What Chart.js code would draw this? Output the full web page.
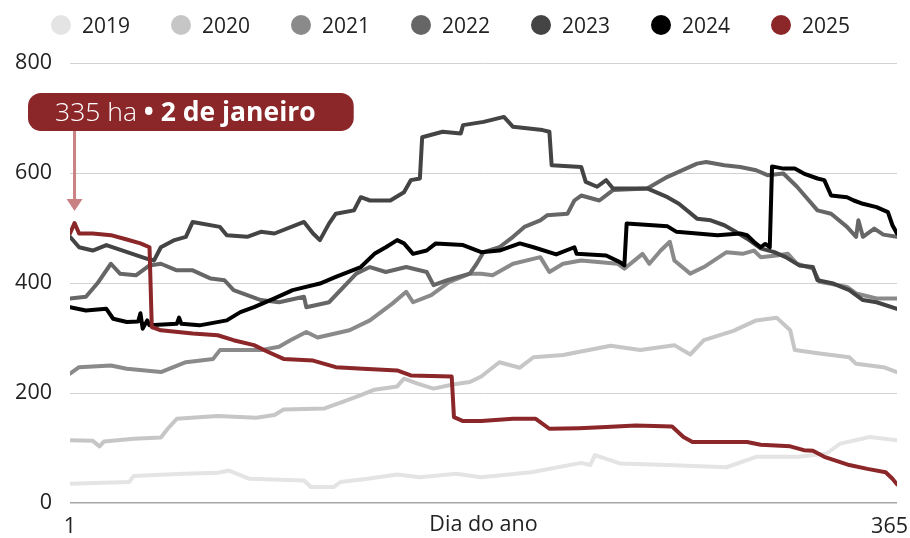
<!DOCTYPE html>
<html>
<head>
<meta charset="utf-8">
<script src="https://cdn.jsdelivr.net/npm/chart.js@4.4.1/dist/chart.umd.min.js"></script>
<style>
html,body{margin:0;padding:0;background:#fff;}
#wrap{width:910px;height:538px;position:relative;}
</style>
</head>
<body>
<div id="wrap"><canvas id="c"></canvas></div>
<script>
// ---- data ----
const years = ['2019', '2020', '2021', '2022', '2023', '2024', '2025'];
const colors = ['#e4e4e4', '#c6c6c6', '#8a8a8a', '#666666', '#444444', '#000000', '#8b2629'];

const days2019 = [1, 27, 29, 51, 66, 71, 80, 104, 107, 117, 120, 132, 145, 155, 171, 182, 204, 226, 230, 232, 243, 264, 290, 303, 322, 334, 340, 353, 365];
const vals2019 = [35, 38, 49, 53, 55, 59, 44, 41, 29, 29, 38, 44, 52, 47, 53, 47, 56, 73, 69, 87, 72, 69, 65, 84, 84, 90, 108, 120, 114];

const days2020 = [1, 11, 14, 16, 29, 41, 44, 48, 66, 83, 91, 95, 113, 121, 129, 135, 145, 148, 154, 161, 170, 177, 182, 190, 199, 205, 218, 239, 252, 267, 274, 280, 293, 303, 312, 318, 320, 331, 344, 347, 359, 365];
const vals2020 = [114, 113, 103, 112, 117, 119, 135, 153, 158, 155, 160, 170, 172, 184, 196, 206, 212, 226, 217, 208, 216, 220, 230, 256, 246, 265, 269, 286, 278, 287, 270, 296, 313, 332, 337, 314, 278, 272, 265, 253, 247, 238];

const days2021 = [1, 5, 19, 26, 41, 52, 64, 67, 85, 93, 98, 105, 110, 124, 133, 143, 149, 152, 160, 168, 177, 182, 187, 196, 208, 212, 218, 226, 242, 245, 253, 256, 261, 265, 267, 274, 280, 290, 297, 302, 305, 312, 317, 321, 328, 331, 343, 347, 356, 365];
const vals2021 = [235, 247, 250, 244, 238, 256, 262, 278, 278, 284, 296, 311, 301, 314, 332, 363, 384, 365, 378, 402, 417, 417, 414, 435, 447, 420, 435, 441, 435, 426, 453, 435, 459, 475, 441, 417, 429, 456, 453, 459, 447, 450, 453, 435, 426, 402, 393, 381, 372, 372];

const days2022 = [1, 8, 13, 19, 23, 30, 36, 41, 48, 55, 63, 69, 73, 85, 93, 104, 105, 115, 127, 133, 140, 149, 158, 161, 167, 177, 180, 183, 190, 196, 201, 208, 211, 220, 223, 226, 234, 240, 255, 264, 277, 281, 289, 296, 303, 308, 315, 321, 325, 330, 336, 343, 347, 348, 350, 355, 359, 365];
const vals2022 = [372, 375, 399, 435, 417, 414, 432, 435, 423, 423, 408, 405, 387, 369, 365, 375, 356, 365, 417, 429, 420, 429, 420, 396, 405, 417, 435, 456, 465, 484, 502, 514, 523, 526, 550, 559, 550, 569, 572, 593, 617, 620, 614, 611, 605, 596, 599, 575, 556, 532, 526, 502, 484, 514, 484, 499, 488, 484];

const days2023 = [1, 5, 11, 17, 35, 38, 41, 47, 52, 55, 67, 70, 79, 85, 91, 104, 108, 111, 115, 118, 126, 129, 133, 142, 148, 151, 155, 156, 165, 173, 174, 183, 192, 196, 209, 212, 213, 226, 228, 233, 237, 240, 255, 264, 269, 277, 283, 289, 294, 300, 305, 311, 316, 322, 328, 330, 337, 344, 350, 356, 365];
const vals2023 = [484, 465, 459, 469, 444, 441, 465, 478, 484, 511, 502, 487, 484, 493, 490, 511, 490, 478, 508, 526, 532, 556, 550, 550, 565, 587, 590, 665, 675, 672, 687, 693, 702, 684, 678, 675, 614, 611, 584, 575, 587, 572, 572, 556, 544, 517, 514, 505, 493, 478, 463, 456, 447, 432, 429, 405, 399, 387, 369, 365, 353];

const days2024 = [1, 8, 17, 20, 26, 31, 32, 33, 35, 36, 48, 49, 50, 58, 70, 76, 82, 91, 99, 111, 118, 129, 135, 140, 145, 148, 152, 158, 162, 174, 182, 190, 199, 205, 215, 223, 224, 237, 243, 245, 246, 264, 268, 277, 286, 296, 299, 302, 305, 307, 309, 310, 315, 320, 324, 330, 333, 336, 343, 346, 350, 356, 361, 363, 365];
const vals2024 = [356, 350, 353, 335, 329, 330, 345, 317, 332, 323, 326, 337, 326, 323, 332, 347, 356, 372, 387, 399, 411, 429, 453, 465, 478, 472, 453, 459, 472, 469, 456, 459, 472, 465, 452, 465, 453, 450, 438, 432, 508, 503, 493, 490, 487, 490, 487, 475, 465, 471, 465, 612, 608, 608, 599, 590, 587, 559, 556, 550, 544, 538, 529, 505, 490];

const days2025 = [1, 3, 5, 11, 19, 26, 32, 36, 37, 41, 55, 66, 73, 82, 88, 95, 108, 118, 130, 145, 151, 169, 170, 174, 182, 196, 206, 212, 225, 237, 250, 266, 271, 275, 299, 305, 318, 324, 328, 333, 344, 352, 360, 363, 365];
const vals2025 = [490, 509, 490, 490, 487, 479, 472, 465, 320, 314, 308, 305, 296, 287, 275, 262, 259, 247, 244, 241, 232, 230, 156, 149, 149, 153, 153, 135, 136, 138, 141, 139, 120, 111, 111, 106, 103, 96, 95, 84, 69, 62, 56, 44, 34];

const yTickValues = [0, 200, 400, 600, 800];
const xTickValues = [1, 365];
const xTitle = 'Dia do ano';
const noteValue = '335 ha';
const noteDate = '2 de janeiro';
const noteDay = 3;
const noteSeries = 6;

// ---- build datasets ----
const dayLists = [days2019, days2020, days2021, days2022, days2023, days2024, days2025];
const valLists = [vals2019, vals2020, vals2021, vals2022, vals2023, vals2024, vals2025];

const datasets = years.map((y, i) => ({
  label: y,
  data: dayLists[i].map((d, k) => ({x: d, y: valLists[i][k]})),
  borderColor: colors[i],
  backgroundColor: colors[i],
  borderWidth: 4,
  pointRadius: 0,
  pointHoverRadius: 0,
  tension: 0,
  borderCapStyle: 'round',
  borderJoinStyle: 'round',
  fill: false,
  order: years.length - 1 - i
}));

const FONT = '"Open Sans", "DejaVu Sans", sans-serif';

// custom legend, evenly spaced like the reference
const legendPlugin = {
  id: 'spacedLegend',
  afterDraw(chart) {
    const ctx = chart.ctx;
    const step = 120, r = 10, cy = 25;
    ctx.save();
    ctx.font = '21px ' + FONT;
    const lastW = 2 * r + 12 + ctx.measureText(years[years.length - 1]).width;
    const total = step * (years.length - 1) + lastW;
    const startX = (chart.width - total) / 2 - 4;
    years.forEach((y, i) => {
      const cx = startX + r + i * step;
      ctx.beginPath();
      ctx.arc(cx, cy, r, 0, Math.PI * 2);
      ctx.fillStyle = colors[i];
      ctx.fill();
      ctx.fillStyle = '#222';
      ctx.textAlign = 'left';
      ctx.textBaseline = 'middle';
      ctx.fillText(y, cx + r + 11, cy + 2);
    });
    ctx.restore();
  }
};

// annotation box + arrow pointing to the 2025 series
const notePlugin = {
  id: 'note',
  afterDatasetsDraw(chart) {
    const ctx = chart.ctx;
    const xs = chart.scales.x, ys = chart.scales.y;
    const idx = dayLists[noteSeries].indexOf(noteDay);
    const px = xs.getPixelForValue(noteDay);
    const py = ys.getPixelForValue(valLists[noteSeries][idx]);
    ctx.save();
    const boxL = chart.chartArea.left - 42, boxT = chart.chartArea.top + 30, boxH = 38;
    const fs = 26.5;
    ctx.font = '300 ' + fs + 'px ' + FONT;
    const t1 = noteValue + ' ';
    const w1 = ctx.measureText(t1).width;
    ctx.font = 'bold ' + fs + 'px ' + FONT;
    const t2 = '\u2022 ' + noteDate;
    const w2 = ctx.measureText(t2).width;
    const boxW = w1 + w2 + 27 + 38;
    // arrow
    const tipY = py - 12;
    ctx.strokeStyle = '#c98184';
    ctx.fillStyle = '#c98184';
    ctx.lineWidth = 3;
    ctx.beginPath();
    ctx.moveTo(px, boxT + boxH);
    ctx.lineTo(px, tipY - 10);
    ctx.stroke();
    ctx.beginPath();
    ctx.moveTo(px - 8, tipY - 12);
    ctx.lineTo(px + 8, tipY - 12);
    ctx.lineTo(px, tipY);
    ctx.closePath();
    ctx.fill();
    // box
    ctx.fillStyle = '#8b2629';
    ctx.beginPath();
    ctx.roundRect(boxL, boxT, boxW, boxH, 13);
    ctx.fill();
    ctx.fillStyle = '#ffffff';
    ctx.textBaseline = 'middle';
    ctx.textAlign = 'left';
    ctx.font = '300 ' + fs + 'px ' + FONT;
    ctx.fillText(t1, boxL + 27, boxT + boxH / 2 + 1);
    ctx.font = 'bold ' + fs + 'px ' + FONT;
    ctx.fillText(t2, boxL + 27 + w1, boxT + boxH / 2 + 1);
    ctx.restore();
  }
};

// keep the last x label inside the canvas
const edgeLabelPlugin = {
  id: 'edgeLabel',
  beforeDraw(chart) {
    const sc = chart.scales.x;
    const items = sc.getLabelItems();
    if (!items.length) return;
    const last = items[items.length - 1];
    const ctx = chart.ctx;
    ctx.save();
    ctx.font = last.font.string;
    const w = ctx.measureText(String(last.label)).width;
    ctx.restore();
    const tr = last.options.translation;
    if (tr[0] + w / 2 > chart.width - 2) tr[0] = chart.width - 2 - w / 2;
  }
};

const AXFONT = { family: FONT, size: 21.5 };

new Chart(document.getElementById('c'), {
  type: 'line',
  data: { datasets },
  options: {
    responsive: true,
    maintainAspectRatio: false,
    animation: false,
    devicePixelRatio: 1,
    layout: { padding: { top: 63, right: 13, bottom: 0, left: 0 } },
    plugins: {
      legend: { display: false },
      tooltip: { enabled: false }
    },
    scales: {
      x: {
        type: 'linear',
        min: 1,
        max: 365,
        grid: { display: false, drawTicks: false },
        border: { display: false },
        afterBuildTicks(scale) { scale.ticks = xTickValues.map(v => ({ value: v })); },
        afterFit(scale) { scale.height = 35; scale.paddingLeft = 0; scale.paddingRight = 0; },
        ticks: {
          autoSkip: false,
          maxRotation: 0,
          padding: 11,
          color: '#222',
          font: AXFONT,
          callback: v => String(v)
        },
        title: {
          display: true,
          text: xTitle,
          color: '#222',
          font: AXFONT,
          padding: { top: 0, bottom: 0 }
        }
      },
      y: {
        min: 0,
        max: 800,
        grid: {
          drawTicks: false,
          color: c => (c.tick && c.tick.value === 0) ? '#a6a6a6' : '#d2d2d2',
          lineWidth: c => (c.tick && c.tick.value === 0) ? 1.5 : 1
        },
        border: { display: false },
        afterBuildTicks(scale) { scale.ticks = yTickValues.map(v => ({ value: v })); },
        afterFit(scale) { scale.width = 70; scale.paddingTop = 0; scale.paddingBottom = 0; },
        ticks: {
          padding: 18,
          color: '#222',
          font: AXFONT,
          callback: v => String(v)
        }
      }
    }
  },
  plugins: [legendPlugin, notePlugin, edgeLabelPlugin]
});
</script>
</body>
</html>
